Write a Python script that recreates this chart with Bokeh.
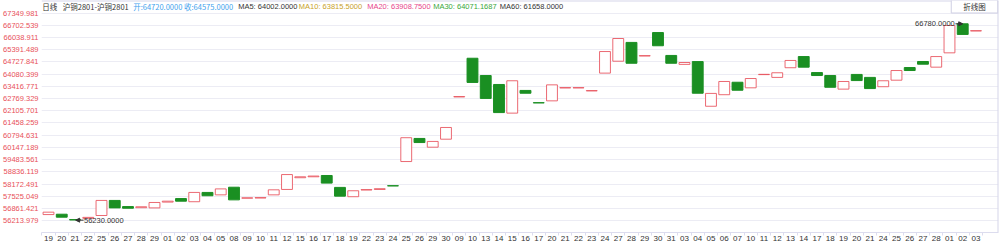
from bokeh.plotting import figure
from bokeh.models import Range1d, FixedTicker, NumeralTickFormatter, Span, Label, Arrow, NormalHead
from bokeh.core.properties import value
from bokeh.embed import file_html
from bokeh.resources import INLINE

# ---------------- data ----------------
dates = ["19", "20", "21", "22", "25", "26", "27", "28", "29", "01", "02", "03", "04", "05", "08",
         "09", "10", "11", "12", "15", "16", "17", "18", "19", "22", "23", "24", "25", "26", "29",
         "30", "09", "10", "13", "14", "15", "16", "17", "20", "21", "22", "23", "24", "27", "28",
         "29", "30", "31", "03", "04", "05", "06", "07", "10", "11", "12", "13", "14", "17", "18",
         "19", "20", "21", "24", "25", "26", "27", "28", "01", "02", "03"]

opens = [56530, 56550, 56260, 56330, 56480, 57290, 56960, 56900, 56890, 57200,
         57390, 57220, 57720, 57590, 58000, 57410, 57420, 57590, 57880, 58510,
         58560, 58630, 57990, 57490, 57850, 57880, 58080, 59380, 60620, 60150,
         60580, 62850, 64930, 64000, 63520, 61980, 63200, 62540, 62640, 63335,
         63335, 63175, 64130, 64770, 65780, 65050, 66310, 65080, 64600, 64750,
         62350, 62970, 63640, 63340, 64050, 63900, 64420, 65020, 64160, 64000,
         63270, 64060, 63900, 63400, 63750, 64430, 64755, 64450, 65220, 66780,
         66395]

closes = [56660, 56390, 56240, 56380, 57290, 56890, 56870, 56950, 57180, 57250,
          57250, 57720, 57540, 57910, 57320, 57430, 57440, 57860, 58680, 58560,
          58600, 58220, 57520, 57810, 57870, 57920, 58070, 60660, 60400, 60460,
          61210, 62870, 63630, 62770, 62010, 63720, 63050, 62530, 63500, 63350,
          63350, 63190, 65290, 65990, 64660, 65070, 65600, 64660, 64700, 63050,
          63040, 63680, 63210, 63840, 64065, 64150, 64810, 64450, 64000, 63370,
          63680, 63730, 63300, 63720, 64270, 64270, 64610, 65020, 66690, 66210,
          66410]

y_ticks = [56213.979, 56861.421, 57525.049, 58172.491, 58836.119, 59483.561,
           60147.189, 60794.631, 61458.259, 62105.701, 62769.329, 63416.771,
           64080.399, 64727.841, 65391.489, 66038.911, 66702.539, 67349.981]

mark_high = 66780.0
mark_low = 56230.0

title_parts = [
    ("日线", "#333333", "Noto Sans CJK SC"),
    ("沪铜2801-沪铜2801", "#333333", "Noto Sans CJK SC"),
    ("开:64720.0000 收:64575.0000", "#3fa3ee", "Noto Sans CJK SC"),
    ("MA5: 64002.0000", "#333333", "Liberation Sans"),
    ("MA10: 63815.5000", "#c9a227", "Liberation Sans"),
    ("MA20: 63908.7500", "#e8458b", "Liberation Sans"),
    ("MA30: 64071.1687", "#3aa83a", "Liberation Sans"),
    ("MA60: 61658.0000", "#333333", "Liberation Sans"),
]
title_x = [0.7, 21.3, 91.7, 196.7, 257.3, 325.7, 391.7, 458.3]

RED = "#e8505a"
GREEN = "#1a8f22"
FONT = "Liberation Sans"

# ---------------- figure ----------------
n = len(dates)
p = figure(width=1001, height=243, output_backend="svg", toolbar_location=None,
           title=None,
           x_range=Range1d(-0.528, 71.70), y_range=Range1d(55567, 68032),
           min_border_left=41, min_border_right=3, min_border_top=0, min_border_bottom=11)
p.background_fill_color = "white"
p.border_fill_color = "white"
p.outline_line_color = None

# axes
p.yaxis.ticker = FixedTicker(ticks=y_ticks, minor_ticks=[])
p.yaxis.formatter = NumeralTickFormatter(format="0.000")
p.yaxis.axis_line_color = None
p.yaxis.major_tick_line_color = None
p.yaxis.minor_tick_line_color = None
p.yaxis.major_tick_out = 0
p.yaxis.major_tick_in = 0
p.yaxis.minor_tick_out = 0
p.yaxis.minor_tick_in = 0
p.yaxis.major_label_text_color = RED
p.yaxis.major_label_text_font = FONT
p.yaxis.major_label_text_font_size = "7.5px"
p.yaxis.major_label_standoff = 3

xt = list(range(n))
p.xaxis.ticker = FixedTicker(ticks=xt, minor_ticks=[i + 0.5 for i in range(-1, n)])
p.xaxis.major_label_overrides = {i: dates[i] for i in xt}
p.xaxis.axis_line_color = "#dcdcee"
p.xaxis.major_tick_line_color = None
p.xaxis.major_tick_out = 0
p.xaxis.major_tick_in = 0
p.xaxis.minor_tick_line_color = "#dcdcee"
p.xaxis.minor_tick_out = 3
p.xaxis.minor_tick_in = 0
p.xaxis.major_label_text_color = "#333333"
p.xaxis.major_label_text_font = FONT
p.xaxis.major_label_text_font_size = "8px"
p.xaxis.major_label_standoff = 0
p.xaxis.major_label_text_align = "left"

p.xgrid.visible = False
p.ygrid.grid_line_color = "#ececf4"

# border lines of the chart box
p.add_layout(Span(location=68032, dimension="width", line_color="#d6d6ea", line_width=2))
p.add_layout(Span(location=71.70, dimension="height", line_color="#d6d6ea", line_width=2))

# ---------------- candles ----------------
up = [i for i in xt if closes[i] >= opens[i]]
dn = [i for i in xt if closes[i] < opens[i]]
p.vbar(x=up, width=0.82,
       top=[max(opens[i], closes[i]) for i in up],
       bottom=[min(opens[i], closes[i]) for i in up],
       fill_color="white", line_color=RED, line_width=1, line_alpha=0.85)
p.vbar(x=dn, width=0.82,
       top=[max(opens[i], closes[i]) for i in dn],
       bottom=[min(opens[i], closes[i]) for i in dn],
       fill_color=GREEN, line_color=GREEN, line_width=1)

# ---------------- mark points ----------------
tops = [max(o, c) for o, c in zip(opens, closes)]
bots = [min(o, c) for o, c in zip(opens, closes)]
hi_i = tops.index(max(tops))
lo_i = bots.index(min(bots))

p.text(x=[hi_i], y=[mark_high], text=[f"{mark_high:.4f}"], x_offset=-8,
       text_align="right", text_baseline="middle", text_font=value(FONT),
       text_font_size="7.5px", text_color="#333333")
p.add_layout(Arrow(end=NormalHead(size=4, fill_color="#333333", line_color="#333333"),
                   x_start=hi_i - 0.55, y_start=mark_high, x_end=hi_i, y_end=mark_high,
                   line_color="#333333", line_width=1))
p.text(x=[lo_i], y=[mark_low], text=[f"{mark_low:.4f}"], x_offset=9,
       text_align="left", text_baseline="middle", text_font=value(FONT),
       text_font_size="7.5px", text_color="#333333")
p.add_layout(Arrow(end=NormalHead(size=4, fill_color="#333333", line_color="#333333"),
                   x_start=lo_i + 0.65, y_start=mark_low, x_end=lo_i + 0.05, y_end=mark_low,
                   line_color="#333333", line_width=1))

# ---------------- title line ----------------
for (txt, col, fnt), tx in zip(title_parts, title_x):
    p.add_layout(Label(x=tx, y=226, x_units="screen", y_units="screen", text=txt,
                       text_color=col, text_font=fnt, text_font_size="7.5px",
                       text_baseline="middle", text_align="left"))

p.add_layout(Label(x=933, y=226, x_units="screen", y_units="screen", text="折线图",
                   text_color="#333333", text_font="Noto Sans CJK SC", text_font_size="7.5px",
                   text_baseline="middle", text_align="center",
                   background_fill_color="white", border_line_color="#cfcfe3",
                   padding=dict(left=12, right=12, top=1, bottom=1)))

open("out.html", "w").write(file_html(p, INLINE))
